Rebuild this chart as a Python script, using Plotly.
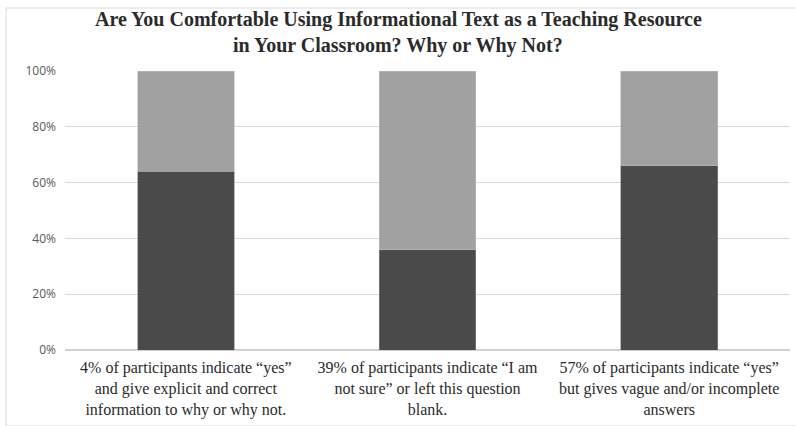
import plotly.graph_objects as go

# Response categories (x axis) and the two stacked shares per category
categories = [
    "4% of participants indicate “yes”<br>and give explicit and correct<br>information to why or why not.",
    "39% of participants indicate “I am<br>not sure” or left this question<br>blank.",
    "57% of participants indicate “yes”<br>but gives vague and/or incomplete<br>answers",
]
lower_share = [0.64, 0.36, 0.66]
upper_share = [0.36, 0.64, 0.34]
y_ticks = [0, 0.2, 0.4, 0.6, 0.8, 1.0]
y_tick_labels = ["0%", "20%", "40%", "60%", "80%", "100%"]

title_lines = [
    "Are You Comfortable Using Informational Text as a Teaching Resource",
    "in Your Classroom? Why or Why Not?",
]

fig = go.Figure()
fig.add_trace(go.Bar(
    x=categories, y=lower_share,
    marker=dict(color="#4a4a4a", line=dict(color="#8c8c8c", width=0.6)),
    showlegend=False,
))
fig.add_trace(go.Bar(
    x=categories, y=upper_share,
    marker=dict(color="#a1a1a1", line=dict(color="#bdbdbd", width=0.6)),
    showlegend=False,
))

# Two-line bold title, placed above the plot area
title_font = dict(family="Liberation Serif", size=20, color="#2b2b2b")
annotations = []
for i, line in enumerate(title_lines):
    annotations.append(dict(
        text="<b>" + line + "</b>",
        xref="paper", yref="paper",
        x=(398 - 65) / 725, xanchor="center",
        y=1 + (51 - 25 * i) / 279, yanchor="middle",
        showarrow=False, font=title_font,
    ))

fig.update_layout(
    barmode="stack",
    bargap=0.6,
    width=796, height=426,
    margin=dict(l=65, r=6, t=71, b=76),
    paper_bgcolor="white",
    plot_bgcolor="white",
    annotations=annotations,
    xaxis=dict(
        showgrid=False, showline=False, zeroline=False,
        ticks="", ticklabelstandoff=6,
        tickfont=dict(family="Liberation Serif", size=16, color="#2b2b2b"),
    ),
    yaxis=dict(
        range=[0, 1],
        tickvals=y_ticks, ticktext=y_tick_labels,
        showgrid=True, gridcolor="#d9d9d9", gridwidth=1,
        zeroline=True, zerolinecolor="#d0d0d0", zerolinewidth=1.5,
        showline=False, ticks="",
        ticklabelstandoff=8,
        tickfont=dict(family="Open Sans", size=12, color="#595959"),
    ),
    shapes=[dict(
        type="rect", xref="paper", yref="paper",
        x0=-59 / 725, x1=1.02, y0=-76 / 279, y1=1 + 63 / 279,
        line=dict(color="#d9d9d9", width=1), layer="below",
    )],
)

fig.write_html("out.html")
